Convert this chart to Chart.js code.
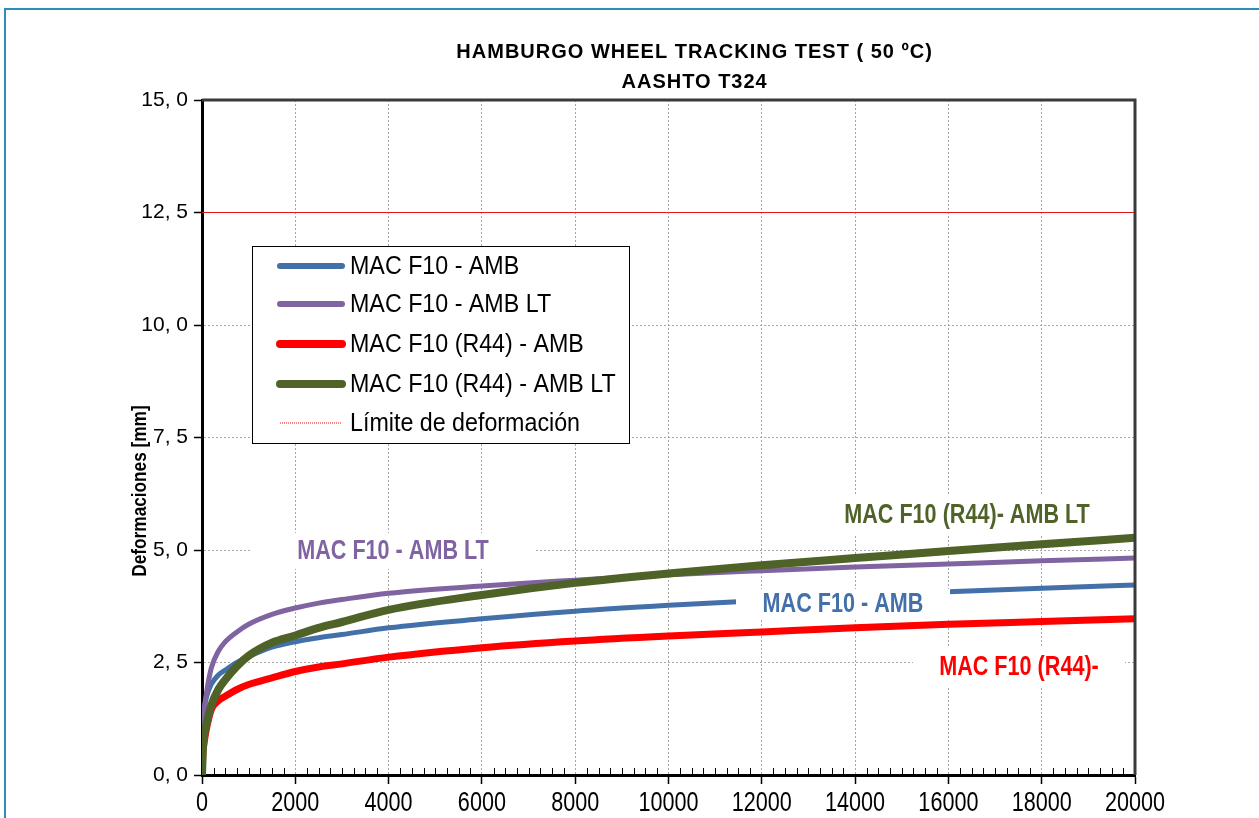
<!DOCTYPE html>
<html><head><meta charset="utf-8">
<script src="https://cdn.jsdelivr.net/npm/chart.js@4/dist/chart.umd.min.js"></script>
<style>
html,body{margin:0;padding:0;background:#fff;overflow:hidden;width:1259px;height:818px;}
#frame{position:absolute;left:4px;top:8px;width:1400px;height:900px;border-top:2px solid #2b8fba;border-left:2px solid #2b8fba;}
#wrap{position:absolute;left:0;top:0;width:1259px;height:818px;}
canvas{position:absolute;left:0;top:0;}
</style></head><body>
<div id="frame"></div>
<div id="wrap"><canvas id="c" width="1259" height="818"></canvas></div>
<script>
// ---- data ----
const cycles      = [0, 20, 50, 100, 200, 350, 500, 750, 1000, 1500, 2000, 2500, 3000, 4000, 6000, 8000, 10000, 12000, 14000, 16000, 18000, 20000];
const macF10Amb   = [0, 1.20, 1.50, 1.75, 2.02, 2.22, 2.33, 2.50, 2.63, 2.84, 2.96, 3.05, 3.12, 3.27, 3.47, 3.64, 3.77, 3.88, 3.98, 4.07, 4.15, 4.22];
const macF10AmbLT = [0, 1.00, 1.45, 1.85, 2.38, 2.75, 2.96, 3.18, 3.35, 3.57, 3.71, 3.82, 3.90, 4.04, 4.20, 4.33, 4.45, 4.54, 4.62, 4.69, 4.76, 4.82];
const macR44Amb   = [0, 0.50, 0.75, 1.05, 1.45, 1.65, 1.75, 1.90, 2.01, 2.16, 2.30, 2.40, 2.47, 2.62, 2.83, 2.98, 3.09, 3.18, 3.27, 3.35, 3.41, 3.47];
const macR44AmbLT = [0, 0.60, 0.90, 1.15, 1.55, 1.90, 2.12, 2.42, 2.65, 2.94, 3.10, 3.27, 3.40, 3.67, 4.00, 4.27, 4.48, 4.66, 4.82, 4.98, 5.13, 5.27];
const limitCycles = [0, 20000];
const limitValues = [12.5, 12.5];
const seriesNames = ['MAC F10 - AMB', 'MAC F10 - AMB LT', 'MAC F10 (R44) - AMB', 'MAC F10 (R44) - AMB LT', 'Límite de deformación'];
const xTickLabels = ['0','2000','4000','6000','8000','10000','12000','14000','16000','18000','20000'];
const yTickLabels = ['0, 0','2, 5','5, 0','7, 5','10, 0','12, 5','15, 0'];
const titleLines  = ['HAMBURGO WHEEL TRACKING TEST ( 50 ºC)', 'AASHTO T324'];
const yTitle      = 'Deformaciones [mm]';
const curveLabels = ['MAC F10 - AMB LT', 'MAC F10 (R44)- AMB LT', 'MAC F10 - AMB', 'MAC F10 (R44)-'];

const COL = {blue:'#4370a9', purple:'#8064a2', red:'#ff0000', green:'#4f6228', limit:'#e8141c'};
const SANS = '"Liberation Sans", Arial, sans-serif';

const pts = (xs, ys) => xs.map((x, i) => ({x: x, y: ys[i]}));

const datasets = [
  {label: seriesNames[0], data: pts(cycles, macF10Amb),   borderColor: COL.blue,   borderWidth: 5, order: 3},
  {label: seriesNames[1], data: pts(cycles, macF10AmbLT), borderColor: COL.purple, borderWidth: 5, order: 2},
  {label: seriesNames[2], data: pts(cycles, macR44Amb),   borderColor: COL.red,    borderWidth: 7, order: 1},
  {label: seriesNames[3], data: pts(cycles, macR44AmbLT), borderColor: COL.green,  borderWidth: 8, order: 0},
  {label: seriesNames[4], data: pts(limitCycles, limitValues), borderColor: COL.limit, borderWidth: 1, order: 4}
].map(d => Object.assign({pointRadius: 0, fill: false, cubicInterpolationMode: 'monotone', borderCapStyle: 'round', borderJoinStyle: 'round'}, d));

function narrowText(ctx, text, x, y, sx) {
  ctx.save();
  ctx.translate(x, y);
  ctx.scale(sx, 1);
  ctx.fillText(text, 0, 0);
  ctx.restore();
}

// ---- plugins ----
const framePlugin = {
  id: 'frame',
  afterDatasetsDraw(chart) {
    const {ctx, chartArea: a} = chart;
    ctx.save();
    ctx.strokeStyle = '#3a3a3a';
    ctx.lineWidth = 3;
    ctx.beginPath();
    ctx.moveTo(a.left, a.top);
    ctx.lineTo(a.right, a.top);
    ctx.lineTo(a.right, a.bottom);
    ctx.stroke();
    ctx.restore();
  }
};

const curveLabelPlugin = {
  id: 'curveLabels',
  afterDatasetsDraw(chart) {
    const {ctx} = chart;
    const xs = chart.scales.x, ys = chart.scales.y;
    const specs = [
      {text: curveLabels[0], x: 4094,  y: 4.98, color: COL.purple, hw: 142, hh: 18},
      {text: curveLabels[1], x: 16399, y: 5.78, color: COL.green,  hw: 150, hh: 19},
      {text: curveLabels[2], x: 13741, y: 3.80, color: COL.blue,   hw: 107, hh: 15},
      {text: curveLabels[3], x: 17513, y: 2.40, color: COL.red,    hw: 106, hh: 21}
    ];
    ctx.save();
    ctx.font = 'bold 27px ' + SANS;
    ctx.textAlign = 'center';
    ctx.textBaseline = 'middle';
    specs.forEach(s => {
      const px = xs.getPixelForValue(s.x), py = ys.getPixelForValue(s.y);
      ctx.fillStyle = '#ffffff';
      ctx.fillRect(px - s.hw, py - s.hh, s.hw * 2, s.hh * 2);
      ctx.fillStyle = s.color;
      narrowText(ctx, s.text, px, py + 1, 0.8);
    });
    ctx.restore();
  }
};

const legendPlugin = {
  id: 'boxLegend',
  afterDatasetsDraw(chart) {
    const {ctx, chartArea: a} = chart;
    const left = a.left + 50, top = a.top + 146, w = 377, h = 197;
    ctx.save();
    ctx.fillStyle = '#fff';
    ctx.fillRect(left, top, w, h);
    ctx.strokeStyle = '#000';
    ctx.lineWidth = 1;
    ctx.strokeRect(left + 0.5, top + 0.5, w, h);
    const rows = [20, 58, 98, 138, 177];
    ctx.font = '25px ' + SANS;
    ctx.textBaseline = 'middle';
    ctx.textAlign = 'left';
    chart.data.datasets.forEach((d, i) => {
      const y = top + rows[i];
      ctx.save();
      ctx.strokeStyle = d.borderColor;
      if (i === 4) { ctx.lineWidth = 1; ctx.setLineDash([1, 1]); ctx.lineCap = 'butt'; }
      else { ctx.lineWidth = Math.min(d.borderWidth + 1, 8); ctx.lineCap = 'round'; }
      ctx.beginPath();
      ctx.moveTo(left + 28, y);
      ctx.lineTo(left + 90, y);
      ctx.stroke();
      ctx.restore();
      ctx.fillStyle = '#000';
      narrowText(ctx, d.label, left + 98, y + 1, 0.93);
    });
    ctx.restore();
  }
};

const textPlugin = {
  id: 'texts',
  afterDraw(chart) {
    const {ctx, chartArea: a} = chart;
    const xs = chart.scales.x;
    ctx.save();
    ctx.fillStyle = '#000';
    ctx.textAlign = 'center';
    ctx.textBaseline = 'middle';
    ctx.font = 'bold 20px ' + SANS;
    ctx.letterSpacing = '1px';
    const cx = a.left + (a.right - a.left) * 0.528;
    ctx.fillText(titleLines[0], cx, a.top - 48);
    ctx.fillText(titleLines[1], cx, a.top - 18);
    ctx.letterSpacing = '0px';
    // y axis title
    ctx.save();
    ctx.translate(140, a.top + 391);
    ctx.rotate(-Math.PI / 2);
    ctx.font = 'bold 21px ' + SANS;
    narrowText(ctx, yTitle, 0, 0, 0.82);
    ctx.restore();
    // x tick labels (narrow)
    ctx.font = '27px ' + SANS;
    xTickLabels.forEach(t => {
      narrowText(ctx, t, xs.getPixelForValue(Number(t)), a.bottom + 29, 0.8);
    });
    ctx.restore();
    // minor ticks on x axis (every 250 cycles)
    ctx.save();
    ctx.strokeStyle = '#000';
    ctx.lineWidth = 1;
    ctx.beginPath();
    for (let v = 250; v < 20000; v += 250) {
      if (v % 2000 === 0) continue;
      const px = Math.round(xs.getPixelForValue(v)) + 0.5;
      ctx.moveTo(px, a.bottom - 1);
      ctx.lineTo(px, a.bottom - 7);
    }
    ctx.stroke();
    ctx.restore();
  }
};

new Chart(document.getElementById('c'), {
  type: 'line',
  data: {datasets: datasets},
  plugins: [framePlugin, curveLabelPlugin, legendPlugin, textPlugin],
  options: {
    responsive: false,
    animation: false,
    devicePixelRatio: 1,
    layout: {padding: {left: 0, right: 124, top: 100, bottom: 0}},
    plugins: {legend: {display: false}, tooltip: {enabled: false}, title: {display: false}},
    scales: {
      x: {
        type: 'linear', min: 0, max: 20000,
        afterFit(s) { s.height = 43; },
        ticks: {stepSize: 2000, display: false, autoSkip: false, maxRotation: 0},
        grid: {color: '#a6a6a6', lineWidth: 1, tickLength: 9, tickColor: '#000', tickWidth: 1.5, tickBorderDash: []},
        border: {display: true, color: '#000', width: 3, dash: [2, 2]}
      },
      y: {
        type: 'linear', min: 0, max: 15,
        afterFit(s) { s.width = 202; },
        ticks: {stepSize: 2.5, color: '#000', padding: 6,
          font: {family: SANS, size: 21},
          callback: (v, i) => yTickLabels[i]},
        grid: {color: '#a6a6a6', lineWidth: 1, tickLength: 8, tickColor: '#000', tickWidth: 1.5, tickBorderDash: []},
        border: {display: true, color: '#000', width: 3, dash: [2, 2]}
      }
    }
  }
});
</script>
</body></html>
